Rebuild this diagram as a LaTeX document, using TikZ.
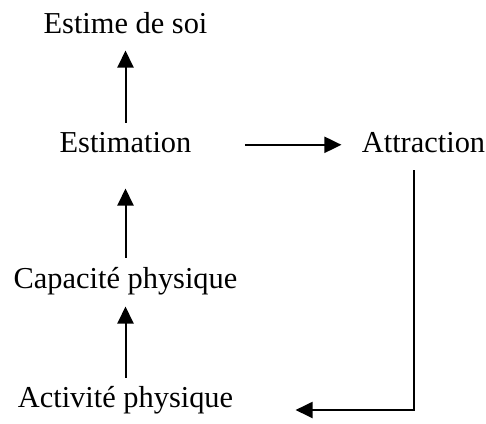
\documentclass[tikz,border=0pt]{standalone}
\usepackage{fontspec}
\setmainfont{Liberation Serif}
\usetikzlibrary{arrows.meta}

\begin{document}
\begin{tikzpicture}[x=0.5pt, y=-0.5pt,
	every node/.style={inner sep=0pt, anchor=base, font=\fontsize{15.2}{18}\selectfont, text height=10.6pt, text depth=3.4pt},
	fleche/.style={-{Triangle[length=8.5pt, width=8pt]}, line width=1pt}]
	\useasboundingbox (0,0) rectangle (486,423);
	
	\node (estime) at (125.5,33) {Estime de soi};
	\node (estimation) at (125.5,152) {Estimation};
	\node (attraction) at (423.5,152) {Attraction};
	\node (capacite) at (125.5,288) {Capacité physique};
	\node (activite) at (125.5,407) {Activité physique};
	
	\coordinate (haut) at (414,170);
	\coordinate (coin) at (414,410);
	
	\draw[fleche, shorten <=3.85pt, shorten >=5.15pt] (estimation.north) -- (estime.south);
	\draw[fleche, shorten <=4.35pt, shorten >=14.65pt] (capacite.north) -- (estimation.south);
	\draw[fleche, shorten <=3.85pt, shorten >=5.65pt] (activite.north) -- (capacite.south);
	
	\draw[fleche, shorten <=26.5pt, shorten >=10pt] (estimation.east) -- (attraction.west);
	\draw[fleche, shorten >=31pt] (haut) -- (coin) -- (activite.east |- coin);
\end{tikzpicture}
\end{document}
